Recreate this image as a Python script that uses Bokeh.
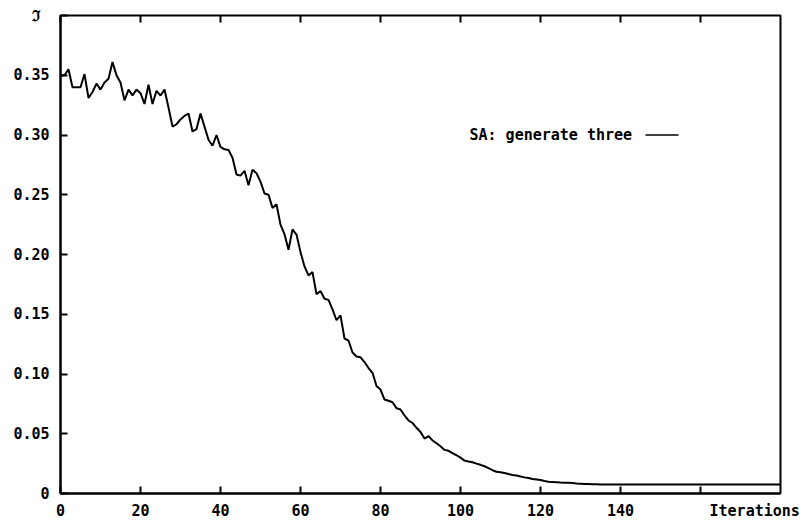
from bokeh.plotting import figure
from bokeh.models import Range1d, FixedTicker, LinearAxis, Label
from bokeh.embed import file_html
from bokeh.resources import INLINE

# ---- data ----
iterations = list(range(0, 181))
cost = [
    0.350, 0.350, 0.355, 0.340, 0.340, 0.340, 0.351, 0.331, 0.336, 0.343,
    0.338, 0.344, 0.347, 0.361, 0.350, 0.344, 0.329, 0.338, 0.333, 0.338,
    0.335, 0.326, 0.342, 0.326, 0.337, 0.333, 0.338, 0.323, 0.307, 0.309,
    0.313, 0.316, 0.318, 0.303, 0.305, 0.318, 0.307, 0.296, 0.291, 0.300,
    0.290, 0.288, 0.2875, 0.281, 0.267, 0.266, 0.270, 0.258, 0.271, 0.268,
    0.261, 0.251, 0.250, 0.239, 0.242, 0.225, 0.217, 0.204, 0.221, 0.2167,
    0.2020, 0.190, 0.1825, 0.1853, 0.1667, 0.1694, 0.163, 0.162, 0.154, 0.1450,
    0.149, 0.1297, 0.128, 0.118, 0.1147, 0.114, 0.110, 0.105, 0.101, 0.090,
    0.087, 0.0786, 0.0776, 0.0764, 0.0714, 0.0703, 0.0653, 0.0611, 0.059, 0.055,
    0.0515, 0.046, 0.048, 0.0444, 0.042, 0.0395, 0.0365, 0.0357, 0.0337, 0.032,
    0.0300, 0.0275, 0.0268, 0.0262, 0.0250, 0.0240, 0.0228, 0.0212, 0.0195, 0.0182,
    0.0178, 0.0172, 0.0163, 0.0155, 0.0150, 0.0143, 0.0135, 0.0130, 0.0122, 0.0118,
    0.0113, 0.0105, 0.0098, 0.0096, 0.0094, 0.0092, 0.0091, 0.0089, 0.0087, 0.0084,
    0.0082, 0.0080, 0.0079, 0.0078, 0.0077, 0.0076, 0.0076, 0.0075, 0.0075, 0.0075,
    0.0075, 0.0075, 0.0075, 0.0075, 0.0075, 0.0075, 0.0075, 0.0075, 0.0075, 0.0075,
    0.0075, 0.0075, 0.0075, 0.0075, 0.0075, 0.0075, 0.0075, 0.0075, 0.0075, 0.0075,
    0.0075, 0.0075, 0.0075, 0.0075, 0.0075, 0.0075, 0.0075, 0.0075, 0.0075, 0.0075,
    0.0075, 0.0075, 0.0075, 0.0075, 0.0075, 0.0075, 0.0075, 0.0075, 0.0075, 0.0075,
    0.0075,
]
x_ticks = [0, 20, 40, 60, 80, 100, 120, 140, 160]
x_tick_labels = ["0", "20", "40", "60", "80", "100", "120", "140", ""]
y_ticks = [0, 0.05, 0.10, 0.15, 0.20, 0.25, 0.30, 0.35, 0.40]
y_tick_labels = ["0", "0.05", "0.10", "0.15", "0.20", "0.25", "0.30", "0.35", ""]
series_label = "SA: generate three"
x_title = "Iterations"
y_title = "\u2111"

FONT = "DejaVu Sans Mono"
NBSP = "\u00a0"

p = figure(width=805, height=522, output_backend="svg", toolbar_location=None,
           x_range=Range1d(0, 180), y_range=Range1d(0, 0.40),
           min_border_left=60, min_border_right=25, min_border_top=15, min_border_bottom=27)

p.xgrid.visible = False
p.ygrid.visible = False
p.outline_line_color = "black"
p.outline_line_width = 2
p.outline_line_alpha = 1.0

p.line(iterations, cost, line_color="black", line_width=2)

for ax in (p.xaxis[0], p.yaxis[0]):
    ax.axis_line_width = 2
    ax.axis_line_color = "black"
    ax.major_tick_in = 7
    ax.major_tick_out = 0
    ax.major_tick_line_width = 2
    ax.minor_tick_line_color = None
    ax.major_label_text_font = FONT
    ax.major_label_text_font_size = "15px"
    ax.major_label_text_font_style = "bold"
    ax.major_label_text_color = "black"

# x axis: the last tick carries the axis title, shifted right like the reference
xlab = dict(zip(x_ticks, x_tick_labels))
xlab[x_ticks[-1]] = NBSP * 12 + x_title
p.xaxis[0].ticker = FixedTicker(ticks=x_ticks)
p.xaxis[0].major_label_overrides = xlab
p.xaxis[0].major_label_standoff = 8

# y axis: the top of the axis carries the axis symbol
ylab = dict(zip(y_ticks, y_tick_labels))
ylab[y_ticks[-1]] = y_title + NBSP
p.yaxis[0].ticker = FixedTicker(ticks=y_ticks)
p.yaxis[0].major_label_overrides = ylab
p.yaxis[0].major_label_standoff = 11

top = LinearAxis(ticker=FixedTicker(ticks=x_ticks))
top.axis_line_color = None
top.major_tick_in = 7
top.major_tick_out = 0
top.major_tick_line_width = 2
top.minor_tick_line_color = None
top.major_label_overrides = {t: "" for t in x_ticks}
top.major_label_text_font_size = "10px"
top.major_label_standoff = 0
p.add_layout(top, "above")

# legend: text followed by line sample
p.add_layout(Label(x=102.25, y=0.30, text=series_label, text_font=FONT,
                   text_font_size="15px", text_font_style="bold",
                   text_align="left", text_baseline="middle", text_color="black"))
p.line([146.25, 154.5], [0.30, 0.30], line_color="black", line_width=1.5)

open("out.html", "w").write(file_html(p, INLINE))
